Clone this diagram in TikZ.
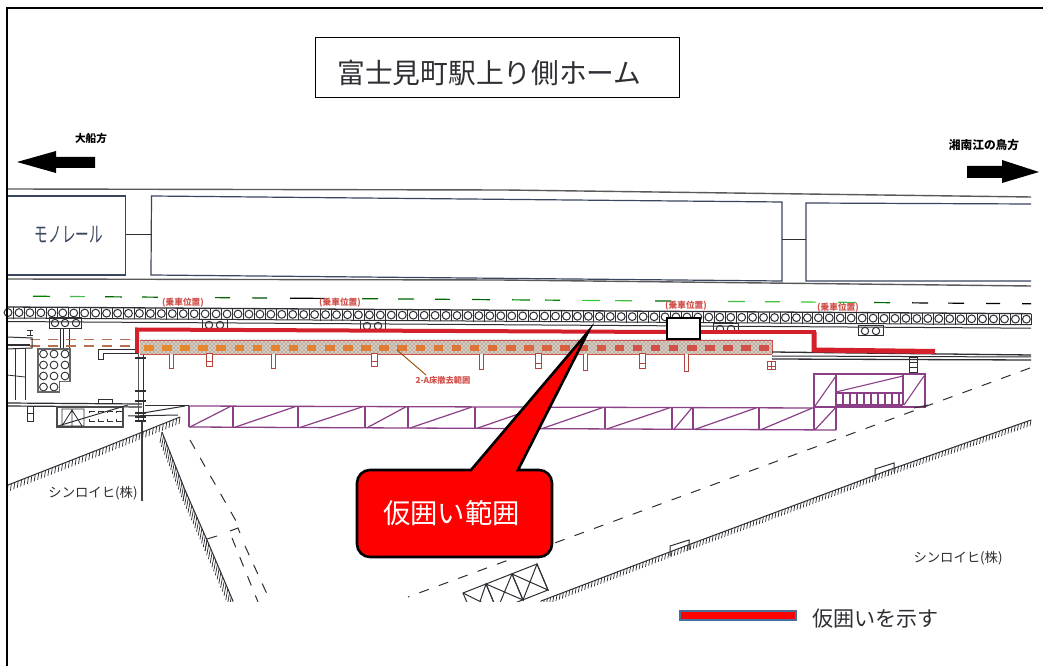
\documentclass[tikz,border=0pt]{standalone}
\usepackage{fontspec}
\setmainfont{Noto Sans CJK JP}
\usetikzlibrary{patterns}
\definecolor{fence}{HTML}{D4202A}
\definecolor{truss}{HTML}{8A3F86}
\definecolor{ink}{HTML}{2E2E34}
\definecolor{carline}{HTML}{3A4560}
\definecolor{stopred}{HTML}{D2504A}
\definecolor{stoporange}{HTML}{E58A2E}
\definecolor{legendblue}{HTML}{4A6E9A}
\definecolor{oldstop}{HTML}{B87050}
\newcommand{\fs}[1]{\fontsize{#1}{#1}\selectfont}
% \slopeticks{x1}{y1}{x2}{y2}{count}{dx}{dy}: a line with ticks hanging from it
\newcommand{\slopeticks}[7]{%
  \draw[inkline] (#1,#2) -- (#3,#4);
  \foreach \t in {0,...,#5}{
    \pgfmathsetmacro{\tx}{#1+(#3-#1)*\t/#5}
    \pgfmathsetmacro{\ty}{#2+(#4-#2)*\t/#5}
    \draw[draw=ink,px=.75] (\tx,\ty) -- ({\tx+#6},{\ty+#7});
  }%
}
\tikzset{
  px/.style={line width=#1*0.75pt},
  inkline/.style={draw=ink,px=1},
  carbox/.style={draw=carline,px=1.2},
  trussline/.style={draw=truss,px=1.1},
  postbox/.style={draw=stopred!85!black,px=1,fill=white},
  fenceline/.style={draw=fence,line join=miter},
  dashline/.style={draw=ink,px=1,dash pattern=on 7.5pt off 8pt},
  scantext/.style={text=ink,inner sep=0pt},
  seat/.style={text=stopred,inner sep=0pt,font=\bfseries},
}
\begin{document}
\begin{tikzpicture}[x=0.75pt,y=-0.75pt]
\useasboundingbox (0,0) rectangle (1043,666);
\fill[white] (0,0) rectangle (1043,666);

% monorail cars and their rails
\draw[inkline,px=1.4,draw=gray!70!black] (7,189) -- (505,190) -- (1031,197);
\draw[carbox] (7,196) -- (125.5,196) -- (125.5,275) -- (7,275);
\draw[carbox] (151.5,196) -- (782,202) -- (782,281) -- (151,275) -- cycle;
\draw[carbox] (1031,204) -- (806,203) -- (806,281) -- (1031,281);
\draw[inkline] (125.5,235) -- (151.5,235);
\draw[inkline] (782,240) -- (806,240);
\draw[inkline,px=1.4,draw=gray!70!black] (7,279) -- (500,280) -- (1031,286);
\node[text=carline,inner sep=0pt,xscale=.85,yscale=1.35] (mono) at (69,235) {\fs{12pt}モノレール};

% direction arrows
\fill[black] (17,162) -- (56,151) -- (56,157) -- (95,157) -- (95,168) -- (56,168) -- (56,173) -- cycle;
\fill[black] (1039,172) -- (1002,160) -- (1002,166) -- (967,166) -- (967,178) -- (1002,178) -- (1002,183) -- cycle;
\node[inner sep=0pt,font=\bfseries] (ofuna) at (91,138) {\fs{8pt}大船方};
\node[inner sep=0pt,font=\bfseries] (shonan) at (984,145) {\fs{8.8pt}湘南江の鳥方};

% green dashed line
\foreach \a/\b/\c in {33/50/green!50!black,70/85/green!45!gray,105/122/green!40!black,142/158/green!40!black,215/230/green!40!black,252/267/green!30!black,290/325/black,362/378/green!40!black,398/414/green!40!black,435/450/green!40!black,472/490/green!40!black,512/530/green!50!black,545/560/green!50!black,582/600/green!60!gray,615/632/green!50!gray,655/671/green!40!black,728/745/green!50!gray,765/780/green!50!gray,801/816/green!60!gray,838/856/green!50!gray,874/890/green!40!black,912/928/black,948/964/black,986/1000/black,1022/1031/black}
  \draw[draw=\c,px=1.2] (\a,{296+\a*.0075}) -- (\b,{296+\b*.0075});

% seat labels
\node[seat] (s1) at (183,303) {\fs{6.5pt}(乗車位置)};
\node[seat] (s2) at (340,303) {\fs{6.5pt}(乗車位置)};
\node[seat] (s3) at (686,306) {\fs{6.5pt}(乗車位置)};
\node[seat] (s4) at (838,308) {\fs{6.5pt}(乗車位置)};

% circle row
\draw[inkline,px=1.3] (7,307) -- (1031,{312+1031*.0065-5});
\draw[inkline] (7,318) -- (1031,{312+1031*.0065+6});
\draw[inkline] (7,321.5) -- (1031,{312+1031*.0065+9.5});
\foreach \i in {-1,...,92}{
  \pgfmathsetmacro{\cx}{19+\i*10.95}
  \pgfmathsetmacro{\cy}{312.5+\cx*.0065}
  \draw[inkline] (\cx,\cy) circle (3.9);
  \draw[inkline,px=.9] ({\cx+5.5},{\cy-5.5}) -- ({\cx+5.5},{\cy+6});
}
% extra circles below the row
\foreach \ax/\ay in {209/325,367/326,720/329,865/331}{
  \draw[inkline] ({\ax-7},{\ay-5}) rectangle ({\ax+18},{\ay+5});
  \draw[inkline] (\ax,\ay) circle (3.7) ({\ax+11},\ay) circle (3.7);
}

% left block
\foreach \x in {55,65,76}\draw[inkline] (\x,323) circle (3.7);
\draw[inkline] (49,318) rectangle (81,329);
\draw[inkline,px=.8] (60,329) -- (60,349) (63,329) -- (63,349) (69,329) -- (69,349);
\foreach \x/\y in {43.5/354,54/354,65/354,43.5/365,54/365,65/365,43.5/376,54/376,65/376,43.5/387,54/387}
  \draw[inkline,px=.9] (\x,\y) circle (3.9);
\draw[draw=gray!80!black,px=1.1] (38,349) -- (70,349) -- (70,381.5) -- (59.5,381.5) -- (59.5,392) -- (38,392) -- cycle;
\draw[draw=oldstop,px=1.8,dash pattern=on 7.5pt off 6pt] (30,339.5) -- (137,339.5);
\draw[draw=oldstop,px=1.8,dash pattern=on 7.5pt off 6pt] (30,346) -- (137,346);
\draw[inkline,px=.8] (27,330) -- (33,330) (30,330) -- (30,335) (27,335) -- (33,335);
\draw[inkline] (7,337) -- (32,338) -- (32,348) -- (7,349);
\draw[inkline,px=1.5] (7,345) -- (30,345);
\draw[draw=ink,px=.8] (15,349) -- (15,400) (25,349) -- (25,400);
\draw[draw=ink,px=.8] (7,375) -- (25,377);
\draw[inkline,px=1.2] (7,403) -- (142,404);
\draw[inkline,px=1.2] (7,406) -- (142,407);
\draw[inkline] (27,407) rectangle (33,422) (27,414) -- (33,414);
\draw[inkline] (98,400) rectangle (112,404);
\draw[inkline] (138,350) -- (98,350) -- (98,360) -- (103,360) -- (103,354) -- (138,354);
\draw[draw=gray!70!black,px=1.4] (138.5,353) -- (138.5,421);
\draw[draw=ink,px=1] (143.5,353) -- (143.5,421);
\draw[draw=gray!50!black,px=1.1] (142,421) -- (142,501);
\foreach \y in {358,391,401,413,417,421}\draw[inkline,px=1.2] (135,\y) -- (146,\y);
\draw[draw=gray!60!black,px=1.2,fill=white] (57,407) rectangle (123,427);
\draw[inkline,px=.8] (62,409) rectangle (84,426) (62,426) -- (72,410) -- (82,426) (72,410) -- (72,426);
\foreach \x in {89,98,107,116}{\draw[inkline,px=.8] (\x,411) -- ({\x+6},411) (\x,421) -- ({\x+6},421) (\x,411) -- (\x,413) (\x,419) -- (\x,421);}
\draw[inkline] (58,426) -- (128,405);
\draw[inkline] (145,406) -- (189,406);
\draw[inkline] (143,413) -- (185,406);
\draw[inkline] (128,416) -- (178,415);

% hatched band
\fill[fill=orange!25!gray!40!white] (140,340) rectangle (772,354);
\path[pattern=crosshatch dots,pattern color=gray!70!black] (140,340) rectangle (772,354);
\draw[draw=stopred,px=.9] (140,340) -- (772,340) (140,354) -- (772,354) (772,340) -- (772,354);
\foreach \i in {0,...,34}{
  \pgfmathsetmacro{\sx}{144+\i*18.1}
  \pgfmathtruncatemacro{\mx}{\i<16?100-\i*2:max(0,70-(\i-16)*6)}
  \fill[stoporange!\mx!stopred] (\sx,345.5) rectangle ({\sx+9.5},351);
}
\foreach \x/\b in {171/369,273/369,481/370,585/371,686/372}\draw[postbox] ({\x-2},354) -- ({\x-2},\b) -- ({\x+2},\b) -- ({\x+2},354);
\foreach \x/\b in {209/367,374/367,538/369,642/369}{\draw[postbox] ({\x-3},354) rectangle ({\x+3},\b);\draw[draw=stopred!85!black,px=.8] ({\x-3},{\b-6}) -- ({\x+3},{\b-6});}
\draw[postbox] (767,362) rectangle (775,370);
\draw[draw=stopred!85!black,px=.8] (767,366) -- (775,366) (771,362) -- (771,370);
\draw[draw=orange!60!black,px=.9] (397,350) -- (426,375);
\node[inner sep=0pt,text=stopred,font=\bfseries] (band) at (443,380) {\fs{6.2pt}2-A床撤去範囲};

% track lines at the right
\draw[inkline,px=1.3] (772,352) -- (1031,355);
\draw[inkline,px=1] (772,356) -- (1031,357);
\draw[inkline,px=1.3] (772,359) -- (1031,360);
\draw[inkline] (909,358) rectangle (917,373) (909,363) -- (917,363) (909,368) -- (917,368);

% long truss
\draw[trussline,px=1.3] (189,406) -- (814,408) (189,427) -- (836,430);
\foreach \x in {189,233,298,365,408,475,540,605,672,693,759,814,836}\draw[trussline] (\x,{406+(\x-189)*.0035}) -- (\x,{427+(\x-189)*.0046});
\foreach \a/\b in {190/231,235/296,300/363,367/406,410/472,477/538,542/603,607/670,674/692,695/756,761/812,815/835}
  \draw[trussline,px=1.2] (\a,{427+(\a-189)*.0046}) -- (\b,{406+(\b-189)*.0035});
% upper right truss
\draw[trussline] (814,374) rectangle (925,407);
\draw[trussline] (836,374) -- (836,430);
\draw[trussline] (903,374) -- (903,405);
\draw[trussline] (815,406) -- (836,376) (836,392) -- (903,376) (904,405) -- (924,376);
\draw[trussline,px=2] (836,393) -- (903,393) (836,405) -- (903,405);
\foreach \x in {843,850,857,864,871,878,885,892,899}\draw[trussline] (\x,394) -- (\x,405);
\draw[inkline] (914,408) -- (928,405);

% slopes and boundaries
\slopeticks{8}{485}{100}{449}{27}{-1}{7}
\slopeticks{100}{449}{180}{417}{24}{-1}{7}
\begin{scope}
\clip (0,0) rectangle (1043,601);
\slopeticks{162}{432}{185}{490}{15}{-2}{11}
\slopeticks{185}{490}{207}{540}{13}{-2}{11}
\slopeticks{207}{540}{233}{601}{15}{-2}{11}
\draw[dashline] (1030,368) -- (408,597);
\draw[dashline] (190,440) -- (240,528);
\draw[dashline] (245,546) -- (267,594);
\draw[dashline] (232,538) -- (258,602);
\draw[inkline] (230,531) -- (238,528) -- (240,533);
\draw[inkline] (207,539) -- (217,536);
\slopeticks{1031}{420}{889}{470}{45}{-1}{6}
\slopeticks{889}{470}{688}{545}{64}{-1}{6}
\slopeticks{688}{545}{541}{601}{46}{-1}{6}
\draw[inkline] (875,479) -- (875,469) -- (894,463) -- (894,472);
\draw[inkline] (670,556) -- (670,546) -- (689,540) -- (689,550);
% small lattice
\draw[inkline] (463,593) -- (537,564) -- (548,590) -- (474,619) -- cycle;
\draw[inkline] (486,584) -- (497,610) (512,574) -- (523,600);
\draw[inkline] (463,593) -- (497,610) -- (486,584) -- (474,619) (486,584) -- (523,600) -- (512,574) -- (497,610) (512,574) -- (548,590) -- (537,564) -- (523,600);
\end{scope}

% Japanese notes
\node[scantext] (s5) at (93,493) {\fs{10pt}シンロイヒ(株)};
\node[scantext] (s6) at (958,558) {\fs{10pt}シンロイヒ(株)};

% temporary fence
\draw[fenceline,px=4] (137,353) -- (137,329.5) -- (667,332);
\draw[fenceline,px=4] (700,332) -- (816,332);
\draw[fenceline,px=5] (814,332) -- (814,350) -- (935,351.5);
\draw[draw=black,px=1.6,fill=white] (667,318) rectangle (700,339);

% title
\node[draw=black,px=1,minimum width=364*0.75pt,minimum height=60*0.75pt,inner sep=0pt,fill=white] (titlebox) at (497,68) {};
\node[inner sep=0pt,text=ink] (title) at (489.5,73) {\fs{20.8pt}富士見町駅上り側ホーム};

% callout
\draw[draw=black,px=2.6,fill=red,line join=miter]
  (471,470) -- (588,332) -- (518,470) -- (539,470) arc[start angle=-90,end angle=0,radius=13]
  -- (552,544) arc[start angle=0,end angle=90,radius=13]
  -- (370,557) arc[start angle=90,end angle=180,radius=13]
  -- (357,483) arc[start angle=180,end angle=270,radius=13] -- cycle;
\node[inner sep=0pt,text=white] (calltext) at (451.5,513) {\fs{20.5pt}仮囲い範囲};

% legend
\draw[draw=legendblue,px=2.4,fill=red] (680,611) rectangle (796,620);
\node[inner sep=0pt,text=ink,anchor=west] (legendtext) at (812,619) {\fs{15.8pt}仮囲いを示す};

% page frame
\draw[black,px=2] (6.5,666) -- (6.5,8) -- (1043,8);
\end{tikzpicture}
\end{document}
